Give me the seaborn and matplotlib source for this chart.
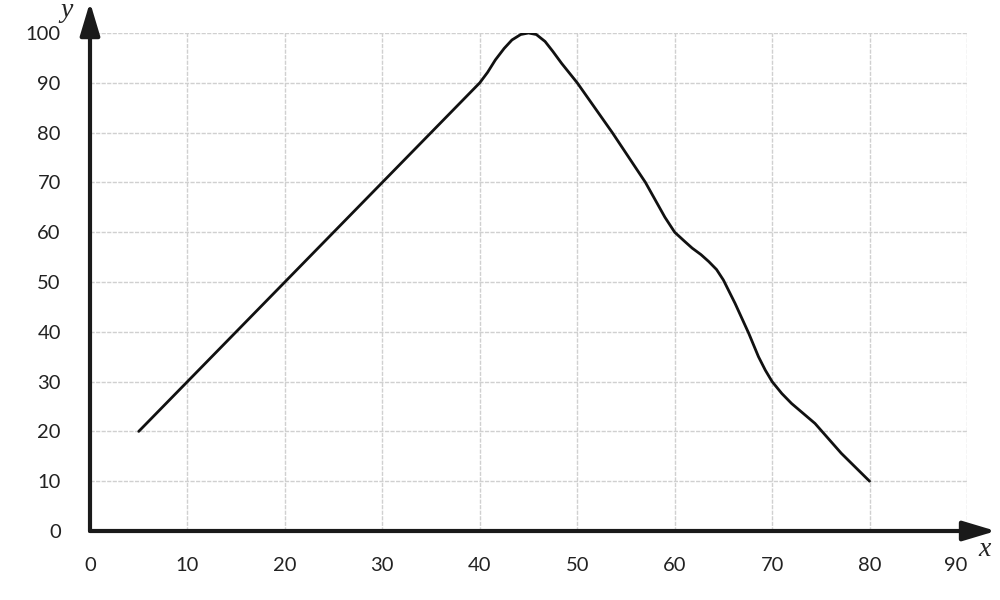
import pandas as pd
import seaborn as sns
import matplotlib.pyplot as plt

# points
x_vals = [5, 40, 40.8, 41.6, 42.5, 43.3, 44.2, 45, 45.8, 46.7, 47.5, 48.4, 50,
          53.6, 57, 59, 60, 61, 61.8, 62.7, 63.5, 64.3, 65, 66.2, 67.6, 68.6,
          69.3, 70, 71, 72, 74.4, 77.1, 80]
y_vals = [20, 90, 92.1, 94.6, 96.9, 98.6, 99.7, 100, 99.7, 98.3, 96.3, 93.9, 90,
          80, 70, 63, 60, 58.2, 56.8, 55.5, 54.1, 52.5, 50.4, 45.7, 39.7, 35,
          32.3, 30, 27.6, 25.6, 21.6, 15.6, 10]
x_ticks = list(range(0, 91, 10))
y_ticks = list(range(0, 101, 10))

df = pd.DataFrame({'x': x_vals, 'y': y_vals})

sns.set_style("whitegrid", {'grid.color': '#d0d0d0', 'grid.linestyle': (0, (3, 1))})
plt.rcParams['font.family'] = ['Lato', 'DejaVu Sans']

fig = plt.figure(figsize=(10, 6), dpi=100)
ax = fig.add_axes([0.09, 0.115, 0.877, 0.83])

sns.lineplot(data=df, x='x', y='y', color='#111111', linewidth=2, sort=False, ax=ax)

ax.set_xlim(0, 90)
ax.set_ylim(0, 100)
ax.set_xticks(x_ticks)
ax.set_yticks(y_ticks)
ax.tick_params(length=0, labelsize=14.5, colors='#222222')
ax.tick_params(axis='x', pad=19)
ax.tick_params(axis='y', pad=21)
ax.get_xticklabels()[-1].set_ha('right')
ax.grid(True, linewidth=1)
ax.set_xlabel('')
ax.set_ylabel('')
for s in ax.spines.values():
    s.set_visible(False)

# axes with arrowheads
arrow = dict(arrowstyle='-|>,head_length=2.0,head_width=0.6', lw=3, color='#1a1a1a',
             shrinkA=0, shrinkB=0)
ax.annotate('', xy=(1.033, 0), xytext=(0, 0), xycoords='axes fraction',
            arrowprops=arrow, annotation_clip=False)
ax.annotate('', xy=(0, 1.062), xytext=(0, 0), xycoords='axes fraction',
            arrowprops=arrow, annotation_clip=False)

fig.text(0.985, 0.085, 'x', fontsize=20, style='italic', family='Liberation Serif',
         ha='center', va='center')
fig.text(0.066, 0.982, 'y', fontsize=20, style='italic', family='Liberation Serif',
         ha='center', va='center')

plt.savefig('out.png', dpi=100)
